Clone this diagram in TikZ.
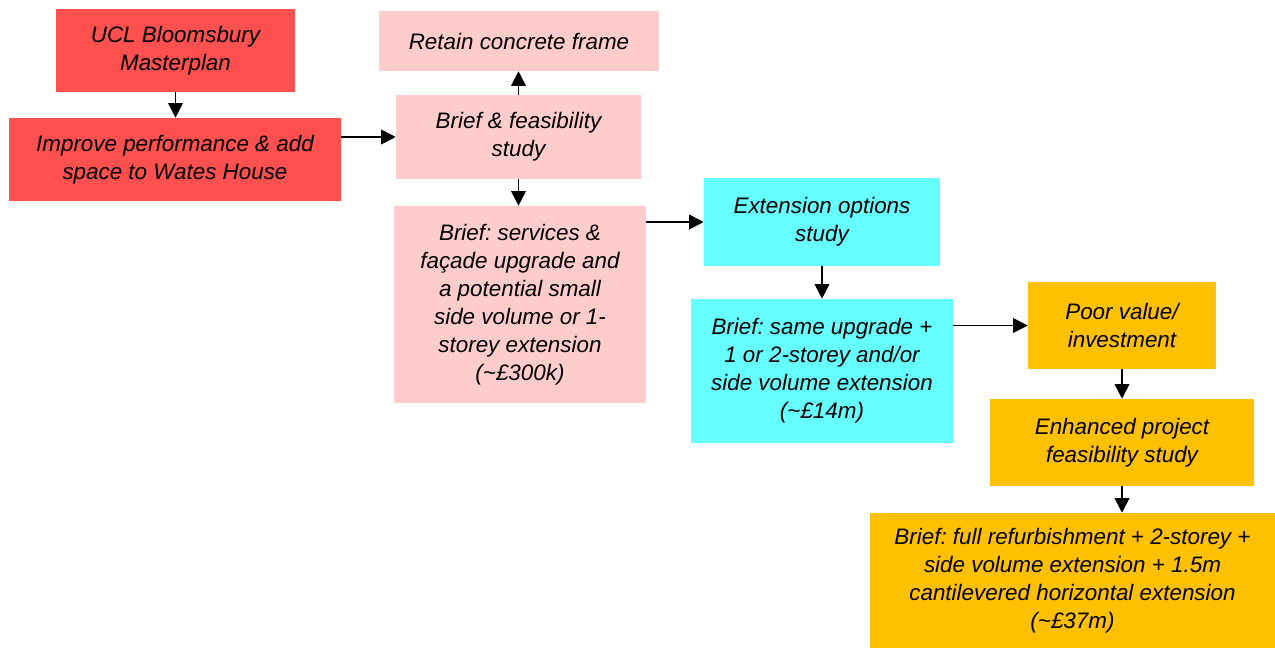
\documentclass[tikz,border=0pt]{standalone}
\usepackage{fontspec}
\setmainfont{Liberation Sans}
\frenchspacing
\usetikzlibrary{arrows.meta}
\definecolor{redbox}{HTML}{FF5050}
\definecolor{pinkbox}{HTML}{FFCCCC}
\definecolor{cyanbox}{HTML}{66FFFF}
\definecolor{orangebox}{HTML}{FFC000}
\tikzset{
  card/.style={rectangle, draw=none, inner sep=0pt, align=center,
    font=\fontsize{16.8pt}{21pt}\selectfont\itshape},
  redcard/.style={card, fill=redbox},
  pinkcard/.style={card, fill=pinkbox},
  cyancard/.style={card, fill=cyanbox},
  orangecard/.style={card, fill=orangebox},
  flow/.style={draw=black, line width=1.3pt, -{Triangle[length=11pt,width=11pt]}}
}
\begin{document}
\begin{tikzpicture}[x=0.75pt, y=-0.75pt]
  \useasboundingbox (0,0) rectangle (1275,648);

  % first stage: masterplan and aim
  \node[redcard, minimum width=179.25pt, minimum height=62.25pt] (ucl) at (175.5,50.5)
    {UCL Bloomsbury\\Masterplan};
  \node[redcard, minimum width=249pt, minimum height=62.25pt] (improve) at (175,159.5)
    {Improve performance \& add\\space to Wates House};

  % second stage: initial brief
  \node[pinkcard, minimum width=210pt, minimum height=45pt] (retain) at (519,41)
    {Retain concrete frame};
  \node[pinkcard, minimum width=183.75pt, minimum height=63pt] (feas) at (518.5,137)
    {Brief \& feasibility\\study};
  \node[pinkcard, minimum width=189pt, minimum height=147.75pt] (services) at (520,304.5)
    {Brief: services \&\\façade upgrade and\\a potential small\\side volume or 1-\\storey extension\\(\textasciitilde£300k)};

  % third stage: extension options
  \node[cyancard, minimum width=177pt, minimum height=66pt] (options) at (822,222)
    {Extension options\\study};
  \node[cyancard, minimum width=196.5pt, minimum height=108pt] (same) at (822,371)
    {Brief: same upgrade +\\1 or 2-storey and/or\\side volume extension\\(\textasciitilde£14m)};

  % fourth stage: enhanced project
  \node[orangecard, minimum width=141pt, minimum height=65.25pt] (poor) at (1122,325.5)
    {Poor value/\\investment};
  \node[orangecard, minimum width=198pt, minimum height=65.25pt] (enhanced) at (1122,442.5)
    {Enhanced project\\feasibility study};
  \node[orangecard, minimum width=303.75pt, minimum height=101.25pt] (full) at (1072.5,580.5)
    {Brief: full refurbishment + 2-storey +\\side volume extension + 1.5m\\cantilevered horizontal extension\\(\textasciitilde£37m)};

  % connectors
  \draw[flow] (ucl.south) -- (ucl.south |- improve.north);
  \draw[flow] (improve.east |- feas.west) -- (feas.west);
  \draw[flow] (feas.north) -- (feas.north |- retain.south);
  \draw[flow] (feas.south) -- (feas.south |- services.north);
  \draw[flow] (services.east |- options.west) -- (options.west);
  \draw[flow] (options.south) -- (options.south |- same.north);
  \draw[flow] (same.east |- poor.west) -- (poor.west);
  \draw[flow] (poor.south) -- (poor.south |- enhanced.north);
  \draw[flow] (enhanced.south) -- (enhanced.south |- full.north);
\end{tikzpicture}
\end{document}
